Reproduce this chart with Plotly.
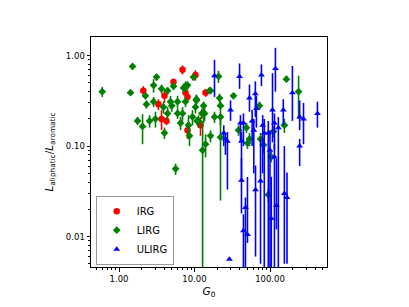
import plotly.graph_objects as go

# ---- data ----
irg_g0 = [2.1, 3.33, 4.0, 5.27, 6.94, 10.3, 7.6, 8.08, 14.0, 3.66, 4.26, 8.08, 12.0]
irg_ratio = [0.41, 0.29, 0.36, 0.51, 0.70, 0.61, 0.39, 0.35, 0.39, 0.20, 0.19, 0.15, 0.17]
irg_err_up = [0.05, 0.04, 0.06, 0.05, 0.08, 0.08, 0.04, 0.04, 0.04, 0.05, 0.02, 0.03, 0.04]
irg_err_dn = [0.05, 0.04, 0.06, 0.05, 0.08, 0.08, 0.04, 0.04, 0.04, 0.05, 0.02, 0.03, 0.04]

lirg_g0 = [0.60, 1.51, 1.42, 3.14, 2.87, 2.24, 2.31, 2.87, 3.66, 4.4, 5.27, 9.7, 7.15, 7.6,
           8.08, 10.6, 15.8, 4.81, 5.0, 5.96, 7.6, 3.88, 4.4, 5.96, 6.94, 10.3, 9.4, 13.2,
           3.04, 2.54, 1.76, 2.05, 6.53, 8.33, 4.0, 8.58, 11.3, 13.6, 12.5, 10.6, 20.8, 16.3,
           21.5, 22.1, 32.8, 165, 239, 72.5, 155, 38.3, 48.8, 10.8, 18.4, 22.1, 111, 16.3,
           22.1, 5.62, 12.8, 14.0, 50.3, 82, 104, 95, 13.2, 53.5, 75]
lirg_ratio = [0.40, 0.76, 0.39, 0.58, 0.47, 0.36, 0.29, 0.31, 0.43, 0.41, 0.46, 0.58, 0.44, 0.46,
              0.47, 0.32, 0.41, 0.31, 0.28, 0.31, 0.31, 0.27, 0.23, 0.23, 0.23, 0.27, 0.21, 0.23,
              0.20, 0.19, 0.19, 0.165, 0.18, 0.17, 0.14, 0.13, 0.19, 0.23, 0.23, 0.33, 0.59, 0.41,
              0.34, 0.28, 0.36, 0.55, 0.40, 0.28, 0.17, 0.15, 0.16, 0.19, 0.21, 0.21, 0.145, 0.13,
              0.125, 0.056, 0.09, 0.105, 0.108, 0.103, 0.076, 0.029, 0.28, 0.12, 0.12]
lirg_err = [0.05, 0.06, 0.02, 0.05, 0.08, 0.03, 0.03, 0.04, 0.05, 0.04, 0.04, 0.05, 0.05, 0.06,
            0.05, 0.05, 0.03, 0.05, 0.04, 0.05, 0.04, 0.04, 0.04, 0.03, 0.04, 0.04, 0.04, 0.05,
            0.04, 0.03, 0.02, 0.06, 0.03, 0.05, 0.02, 0.03, 0.03, 0.04, 0.03, 0.04, 0.09, 0.03,
            0.04, 0.03, 0.02, 0.04, 0.20, 0.03, 0.03, 0.02, 0.02, 0.02, 0.03, 0.04, 0.02, 0.02,
            0.10, 0.008, 0.10, 0.03, 0.015, 0.02, 0.01, 0.005, 0.03, 0.02, 0.02]

ulirg_g0 = [18.4, 39.5, 53.5, 77, 118, 198, 108, 30, 150, 247, 278, 425, 64, 66, 40.6, 44.5,
            58, 61, 80, 84, 114.5, 129, 24.4, 25.7, 27.3, 41.9, 41.9, 47.3, 44.5, 50.3, 29,
            64.3, 74.9, 114.5, 104, 121.7, 155, 168, 247, 95, 100]
ulirg_ratio = [0.60, 0.59, 0.34, 0.61, 0.72, 0.39, 0.25, 0.25, 0.25, 0.21, 0.20, 0.23, 0.38, 0.26,
               0.18, 0.18, 0.19, 0.15, 0.17, 0.14, 0.18, 0.16, 0.14, 0.12, 0.113, 0.113, 0.042,
               0.021, 0.0116, 0.0105, 0.0056, 0.033, 0.041, 0.076, 0.0158, 0.022, 0.030, 0.027,
               0.10, 0.14, 0.09]
ulirg_err_up = [0.30, 0.23, 0.14, 0.19, 0.50, 0.38, 0.39, 0.07, 0.08, 0.11, 0.10, 0.08, 0.14, 0.10,
                0.04, 0.05, 0.06, 0.05, 0.05, 0.06, 0.05, 0.05, 0.03, 0.02, 0.03, 0.03, 0.032,
                0.006, 0.006, 0.035, 0.0, 0.028, 0.08, 0.03, 0.03, 0.05, 0.07, 0.024, 0.02,
                0.05, 0.06]
ulirg_err_dn = [0.25, 0.16, 0.10, 0.15, 0.32, 0.20, 0.14, 0.06, 0.08, 0.06, 0.095, 0.07, 0.17, 0.10,
                0.07, 0.08, 0.09, 0.10, 0.12, 0.14, 0.09, 0.16, 0.04, 0.04, 0.08, 0.07, 0.024,
                0.021, 0.012, 0.002, 0.0, 0.027, 0.036, 0.08, 0.016, 0.01, 0.025, 0.022, 0.04,
                0.14, 0.09]

x_tick_vals = [1, 10, 100]
x_tick_text = ["1.00", "10.00", "100.00"]
y_tick_vals = [0.01, 0.1, 1]
y_tick_text = ["0.01", "0.10", "1.00"]

FONT = "DejaVu Sans"

fig = go.Figure()


def add_series(name, x, y, eu, ed, color, symbol, size):
    fig.add_trace(go.Scatter(
        x=x, y=y, mode="markers", name=name,
        marker=dict(color=color, symbol=symbol, size=size, line=dict(width=0)),
        error_y=dict(type="data", symmetric=False, array=eu, arrayminus=ed,
                     color=color, thickness=1.6, width=0),
    ))


add_series("IRG", irg_g0, irg_ratio, irg_err_up, irg_err_dn, "#ff0000", "circle", 6.5)
add_series("LIRG", lirg_g0, lirg_ratio, lirg_err, lirg_err, "#008000", "diamond", 6)
add_series("ULIRG", ulirg_g0, ulirg_ratio, ulirg_err_up, ulirg_err_dn, "#0000ff", "triangle-up", 6)

minor_x = [m * 10 ** d for d in range(-1, 3) for m in range(2, 10)]
minor_y = [m * 10 ** d for d in range(-3, 1) for m in range(2, 10)]

fig.update_xaxes(
    type="log", range=[-0.371, 2.755],
    tickvals=x_tick_vals, ticktext=x_tick_text,
    ticks="outside", ticklen=3.5, tickwidth=1, tickcolor="black",
    minor=dict(tickvals=minor_x, ticks="outside", ticklen=2, tickwidth=0.8, tickcolor="black"),
    showline=True, linecolor="black", linewidth=1, mirror=True,
    showgrid=False, zeroline=False,
    tickfont=dict(family=FONT, size=8.5, color="black"),
    title=dict(text="<i>G</i><sub>0</sub>", font=dict(family=FONT, size=10.5, color="black"),
               standoff=4),
)
fig.update_yaxes(
    type="log", range=[-2.337, 0.2065],
    tickvals=y_tick_vals, ticktext=y_tick_text,
    ticks="outside", ticklen=3.5, tickwidth=1, tickcolor="black",
    minor=dict(tickvals=minor_y, ticks="outside", ticklen=2, tickwidth=0.8, tickcolor="black"),
    showline=True, linecolor="black", linewidth=1, mirror=True,
    showgrid=False, zeroline=False,
    tickfont=dict(family=FONT, size=8.5, color="black"),
    title=dict(text="<i>L</i><sub>aliphatic</sub>/<i>L</i><sub>aromatic</sub>",
               font=dict(family=FONT, size=10.5, color="black"), standoff=10),
)

fig.update_layout(
    width=409, height=307, autosize=False,
    margin=dict(l=91, r=82, t=37, b=36),
    plot_bgcolor="white", paper_bgcolor="white",
    font=dict(family=FONT, color="black"),
    legend=dict(
        x=0.02, y=0.01, xanchor="left", yanchor="bottom",
        bgcolor="rgba(255,255,255,0.9)", bordercolor="#999999", borderwidth=1,
        font=dict(family=FONT, size=10, color="black"),
        tracegroupgap=0, itemwidth=30,
    ),
    showlegend=True,
)

fig.write_html("out.html", config={"displayModeBar": False},
               post_script="document.body.style.margin='0';")
